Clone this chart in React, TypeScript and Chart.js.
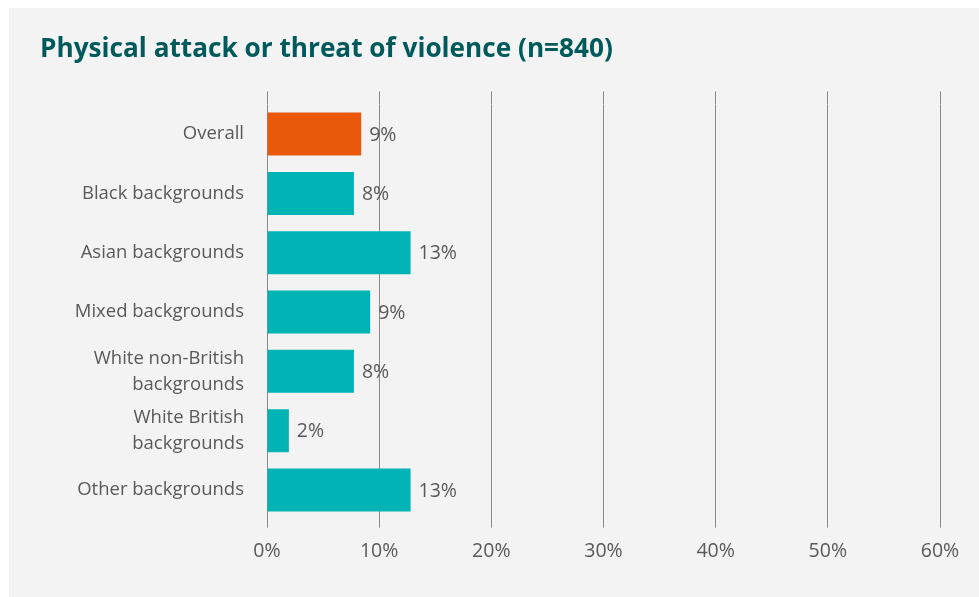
import React, { useEffect, useRef } from "react";
import { Chart, registerables } from "chart.js";

Chart.register(...registerables);

const TITLE = "Physical attack or threat of violence (n=840)";
const categories: (string | string[])[] = [
  "Overall",
  "Black backgrounds",
  "Asian backgrounds",
  "Mixed backgrounds",
  ["White non-British", "backgrounds"],
  ["White British", "backgrounds"],
  "Other backgrounds",
];
const values = [8.4, 7.75, 12.8, 9.2, 7.75, 1.95, 12.8];
const valueLabels = ["9%", "8%", "13%", "9%", "8%", "2%", "13%"];
const barColors = ["#ea580c", "#00b3b5", "#00b3b5", "#00b3b5", "#00b3b5", "#00b3b5", "#00b3b5"];
const xMin = 0;
const xMax = 60;
const xStep = 10;

const FONT = "'Open Sans', 'Noto Sans', sans-serif";
const TEXT = "#595959";
const GRID = "#8a8a8a";

const valueLabelPlugin = {
  id: "valueLabels",
  afterDatasetsDraw(chart: any) {
    const ctx = chart.ctx;
    const meta = chart.getDatasetMeta(0);
    ctx.save();
    ctx.font = `19.5px ${FONT}`;
    ctx.fillStyle = TEXT;
    ctx.textAlign = "left";
    ctx.textBaseline = "middle";
    meta.data.forEach((bar: any, i: number) => {
      ctx.fillText(valueLabels[i], bar.x + 8, bar.y + 1);
    });
    ctx.restore();
  },
};

export default function App() {
  const ref = useRef<HTMLCanvasElement>(null);
  useEffect(() => {
    if (!ref.current) return;
    const chart = new Chart(ref.current, {
      type: "bar",
      data: {
        labels: categories,
        datasets: [
          {
            data: values,
            backgroundColor: barColors,
            borderWidth: 0,
            barPercentage: 0.725,
            categoryPercentage: 1,
          },
        ],
      },
      options: {
        indexAxis: "y",
        responsive: false,
        animation: false,
        devicePixelRatio: 1,
        layout: { padding: { left: 40, right: 39, top: 0, bottom: 22 } },
        plugins: {
          legend: { display: false },
          tooltip: { enabled: false },
          title: {
            display: true,
            text: TITLE,
            align: "start",
            color: "#005a5c",
            font: { family: FONT, size: 26.2, weight: "bold", lineHeight: 1.2 },
            padding: { top: 34, bottom: 26 },
          },
        },
        scales: {
          x: {
            type: "linear",
            position: "bottom",
            min: xMin,
            max: xMax,
            ticks: {
              stepSize: xStep,
              color: TEXT,
              font: { family: FONT, size: 19.5 },
              padding: 12,
              callback: (v: any) => v + "%",
            },
            grid: { color: GRID, lineWidth: 1, tickLength: 8, drawTicks: true },
            border: { display: false },
          },
          x2: {
            type: "linear",
            position: "top",
            min: xMin,
            max: xMax,
            ticks: { display: false, stepSize: xStep },
            grid: { color: GRID, lineWidth: 1, tickLength: 13, drawOnChartArea: false, drawTicks: true },
            border: { display: false },
          },
          y: {
            type: "category",
            ticks: {
              color: TEXT,
              font: { family: FONT, size: 18.5, lineHeight: 1.4 },
              padding: 15,
            },
            grid: { display: false },
            border: { display: false },
            afterFit: (scale: any) => {
              scale.width = 227;
            },
          },
        },
      },
      plugins: [valueLabelPlugin],
    } as any);
    return () => chart.destroy();
  }, []);

  return (
    <div style={{ position: "fixed", left: 0, top: 0, width: 979, height: 597, background: "#ffffff" }}>
      <div style={{ position: "absolute", left: 9, top: 8, right: 0, bottom: 0, background: "#f3f3f3" }} />
      <canvas
        ref={ref}
        width={979}
        height={597}
        style={{ position: "absolute", left: 0, top: 0, width: 979, height: 597 }}
      />
    </div>
  );
}
